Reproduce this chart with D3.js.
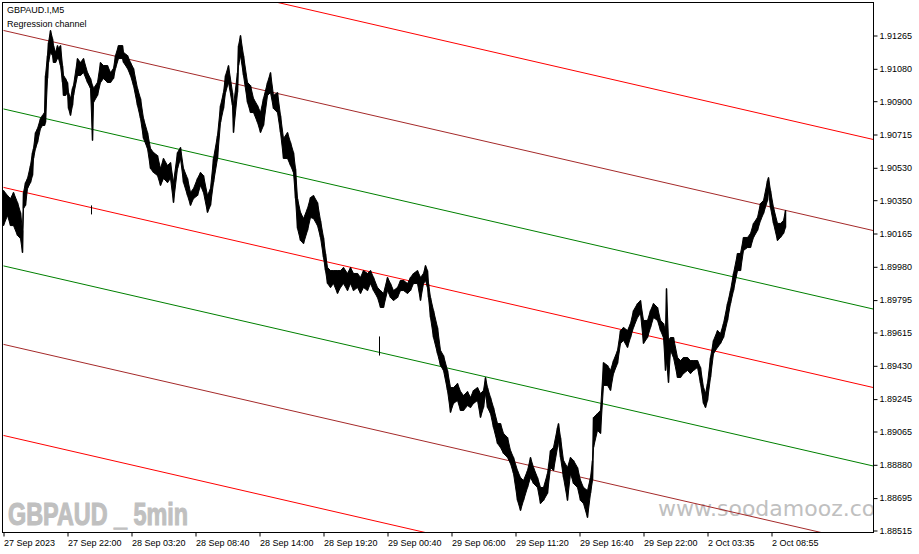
<!DOCTYPE html>
<html><head><meta charset="utf-8">
<script src="https://cdn.jsdelivr.net/npm/d3@7/dist/d3.min.js"></script>
<style>body{margin:0;background:#fff}svg{display:block}</style>
</head><body>
<svg id="c" width="919" height="554"></svg>
<script>
// ---------- data ----------
const symbolTitle = "GBPAUD.I,M5";
const indicatorTitle = "Regression channel";
const watermarkLeft = "GBPAUD _ 5min";
const watermarkRight = "www.soodamooz.co";

const timeTickBars = [0, 64, 128, 192, 256, 320, 384, 448, 512, 576, 640, 704, 768];
const timeLabels = ["27 Sep 2023", "27 Sep 22:00", "28 Sep 03:20", "28 Sep 08:40", "28 Sep 14:00",
  "28 Sep 19:20", "29 Sep 00:40", "29 Sep 06:00", "29 Sep 11:20", "29 Sep 16:40",
  "29 Sep 22:00", "2 Oct 03:35", "2 Oct 08:55"];

const priceTicks = [1.91265, 1.91080, 1.90900, 1.90715, 1.90530, 1.90350, 1.90165, 1.89980,
  1.89795, 1.89615, 1.89430, 1.89245, 1.89065, 1.88880, 1.88695, 1.88515];

// sampled M5 bars: bar offset from first bar, high, low
const barIndex = [
  0,4,7,10,14,17,19,20,22,24, 27,29,30,32,34,37,39,41,42,44,
  45,47,49,50,52,54,55,57,59,60, 62,64,65,67,69,70,74,77,80,84,
  87,89,90,94,97,100,104,107,110,112, 115,119,120,124,127,130,134,137,140,144,
  147,150,154,157,
  160,164,167,170,174,177,180,184,187,190, 194,197,200,204,207,210,214,217,220,222,
  225,229,230,234,235,237,240,244,247,250, 254,257,260,264,267,270,274,277,280,284,
  287,290,292,294,297,300,304,307,310,314,
  317,320,322,324,327,330,334,337,340,344, 347,350,354,357,360,364,367,370,374,377,
  380,384,387,390,394,397,400,404,407,410, 414,417,420,422,424,425,427,430,434,437,
  440,444,447,450,454,457,460,464,
  467,470,474,477,480,482,484,487,490,494, 497,500,504,507,510,514,517,520,524,527,
  530,534,537,540,544,547,550,554,555,557, 560,564,567,570,574,577,580,584,587,589,
  590,594,597,600,604,
  607,610,614,617,620,624,627,630,634,637, 640,644,647,650,654,657,660,662,663,665,
  667,670,674,677,680,684,687,690,694,697, 700,702,704,707,710,714,717,720,724,727,
  730,734,737,740,744,747,750,754,757,760, 764,765,767,770,774,777,780,782
];
const barHigh = [
  1.90404,1.90376,1.90359,1.90393,1.90337,1.90282,1.90182,1.90393,1.90448,1.90471,
  1.90543,1.90615,1.90637,1.90726,1.90748,1.90804,1.90821,1.90837,1.91043,1.91154,
  1.91226,1.91293,1.91248,1.91209,1.91171,1.91209,1.91193,1.91209,1.91098,1.91043,
  1.91026,1.91004,1.90948,1.90915,1.90971,1.90987,1.91137,1.91115,1.91137,1.91059,
  1.91026,1.90987,1.90971,1.91004,1.91115,1.91098,1.91098,1.91059,1.91082,1.91154,
  1.91209,1.91209,1.91171,1.91154,1.91115,1.91082,1.90971,1.90915,1.90804,1.90726,
  1.90637,1.90615,1.90598,1.90526,
  1.90582,1.90543,1.90559,1.90448,1.90615,1.90643,1.90526,1.90471,1.90393,1.90415,
  1.90471,1.90504,1.90487,1.90376,1.90415,1.90582,1.90709,1.90876,1.90948,1.91043,
  1.91098,1.90948,1.90876,1.91059,1.91209,1.91265,1.91154,1.91004,1.90987,1.90915,
  1.90876,1.90837,1.90915,1.91004,1.91059,1.90932,1.90948,1.90821,1.90693,1.90726,
  1.90671,1.90615,1.90526,1.90359,1.90282,1.90248,1.90304,1.90365,1.90376,1.90337,
  1.90237,1.90143,1.90054,1.89976,1.89959,1.89959,1.89959,1.89959,1.89976,1.89943,
  1.89976,1.89943,1.89943,1.89921,1.89959,1.89943,1.89959,1.89921,1.89865,1.89848,
  1.89832,1.89921,1.89887,1.89848,1.89865,1.89904,1.89904,1.89887,1.89921,1.89943,
  1.89959,1.89921,1.89943,1.89987,1.89959,1.89887,1.89809,1.89737,1.89643,1.89515,
  1.89487,1.89404,1.89309,1.89309,1.89332,1.89287,1.89265,1.89287,
  1.89254,1.89293,1.89309,1.89276,1.89293,1.89365,1.89309,1.89254,1.89198,1.89109,
  1.89109,1.89054,1.89032,1.88959,1.88921,1.88848,1.88809,1.88793,1.88848,1.88921,
  1.88865,1.88809,1.88754,1.88754,1.88832,1.88959,1.88976,1.89087,1.89109,1.89032,
  1.88904,1.88865,1.88921,1.88904,1.88865,1.88793,1.88754,1.88737,1.88809,1.88904,
  1.89143,1.89165,1.89182,1.89448,1.89432,
  1.89404,1.89459,1.89515,1.89626,1.89643,1.89626,1.89665,1.89737,1.89776,1.89793,
  1.89682,1.89682,1.89737,1.89776,1.89754,1.89682,1.89665,1.89626,1.89859,1.89571,
  1.89587,1.89587,1.89476,1.89459,1.89476,1.89476,1.89459,1.89459,1.89459,1.89421,
  1.89309,1.89276,1.89332,1.89476,1.89571,1.89626,1.89609,1.89665,1.89776,1.89848,
  1.89943,1.90054,1.90054,1.90143,1.90143,1.90165,1.90221,1.90254,1.90332,1.90348,
  1.90459,1.90476,1.90404,1.90309,1.90221,1.90221,1.90237,1.90293
];
const barLow = [
  1.90209,1.90265,1.90209,1.90209,1.90154,1.90137,1.90059,1.90304,1.90321,1.90415,
  1.90448,1.90487,1.90582,1.90637,1.90671,1.90748,1.90765,1.90765,1.90782,1.91026,
  1.91115,1.91171,1.91154,1.91115,1.91115,1.91137,1.91137,1.91098,1.91004,1.90932,
  1.90932,1.90948,1.90859,1.90821,1.90876,1.90932,1.91043,1.91043,1.91059,1.91004,
  1.90971,1.90682,1.90893,1.90932,1.91004,1.91026,1.91004,1.91004,1.91026,1.91082,
  1.91137,1.91137,1.91115,1.91082,1.91043,1.90987,1.90876,1.90804,1.90693,1.90637,
  1.90526,1.90504,1.90487,1.90432,
  1.90471,1.90448,1.90471,1.90337,1.90526,1.90582,1.90448,1.90376,1.90321,1.90359,
  1.90376,1.90432,1.90393,1.90282,1.90321,1.90448,1.90582,1.90782,1.90859,1.90948,
  1.91004,1.90876,1.90726,1.90948,1.91098,1.91154,1.91043,1.90893,1.90837,1.90837,
  1.90782,1.90726,1.90765,1.90932,1.90948,1.90859,1.90837,1.90726,1.90582,1.90582,
  1.90543,1.90504,1.90359,1.90193,1.90126,1.90109,1.90182,1.90254,1.90248,1.90209,
  1.90143,1.90032,1.89959,1.89887,1.89865,1.89887,1.89832,1.89865,1.89887,1.89848,
  1.89887,1.89848,1.89865,1.89832,1.89865,1.89848,1.89887,1.89848,1.89809,1.89754,
  1.89754,1.89848,1.89809,1.89793,1.89809,1.89848,1.89848,1.89832,1.89848,1.89887,
  1.89887,1.89793,1.89887,1.89904,1.89865,1.89809,1.89698,1.89587,1.89498,1.89432,
  1.89404,1.89293,1.89171,1.89221,1.89237,1.89182,1.89182,1.89209,
  1.89198,1.89221,1.89237,1.89143,1.89198,1.89276,1.89198,1.89165,1.89087,1.88998,
  1.88976,1.88943,1.88921,1.88887,1.88832,1.88682,1.88626,1.88682,1.88754,1.88809,
  1.88776,1.88754,1.88665,1.88682,1.88721,1.88865,1.88848,1.88976,1.89015,1.88921,
  1.88809,1.88682,1.88832,1.88776,1.88754,1.88682,1.88665,1.88587,1.88721,1.88793,
  1.88976,1.89071,1.89054,1.89321,1.89321,
  1.89293,1.89387,1.89443,1.89554,1.89571,1.89532,1.89587,1.89643,1.89698,1.89721,
  1.89554,1.89587,1.89643,1.89698,1.89682,1.89626,1.89587,1.89404,1.89459,1.89337,
  1.89515,1.89476,1.89365,1.89365,1.89387,1.89404,1.89387,1.89404,1.89421,1.89332,
  1.89221,1.89198,1.89237,1.89365,1.89498,1.89532,1.89554,1.89587,1.89682,1.89776,
  1.89848,1.89959,1.89959,1.90071,1.90087,1.90087,1.90143,1.90182,1.90237,1.90276,
  1.90348,1.90404,1.90309,1.90221,1.90126,1.90143,1.90165,1.90198
];

// isolated single bars
const strayIndex = [88, 376];
const strayHigh = [1.90321, 1.89593];
const strayLow = [1.90271, 1.89487];

// regression channel: centre line from first to last visible bar, parallel offsets
const channelBars = [0, 870];
const channelCentre = [1.90421, 1.89309];
const channelOffsets = [0.01378, 0.00872, 0.00436, 0, -0.00436, -0.00872, -0.01378];

// ---------- drawing ----------
const L = 3, R = 873, T = 3, B = 533;
const svg = d3.select("#c");

const x = d3.scaleLinear().domain([0, 870]).range([L + 0.5, R + 0.5]);
const y = d3.scaleLinear().domain([1.88515, 1.91265]).range([530.5, 35.5]);

svg.append("defs").append("clipPath").attr("id", "plot")
  .append("rect").attr("x", L).attr("y", T).attr("width", R - L).attr("height", B - T);

const plot = svg.append("g").attr("clip-path", "url(#plot)");

// watermarks
svg.append("text").attr("x", 8).attr("y", 525)
  .attr("font-family", "Liberation Sans, Arial, sans-serif").attr("font-weight", "bold")
  .attr("font-size", 31).attr("fill", "#c0c0c0")
  .attr("stroke", "#c0c0c0").attr("stroke-width", 1.1)
  .attr("textLength", 180).attr("lengthAdjust", "spacingAndGlyphs")
  .text(watermarkLeft);
plot.append("text").attr("x", 658).attr("y", 516)
  .attr("font-family", "DejaVu Sans, Verdana, sans-serif")
  .attr("font-size", 22).attr("fill", "#c0c0c0")
  .text(watermarkRight);

// channel lines
const channelColor = ["#ff0000", "#a52a2a", "#008000", "#ff0000", "#008000", "#a52a2a", "#ff0000"];
channelOffsets.forEach((off, k) => {
  plot.append("line")
    .attr("x1", x(channelBars[0])).attr("y1", y(channelCentre[0] + off))
    .attr("x2", x(channelBars[1])).attr("y2", y(channelCentre[1] + off))
    .attr("stroke", channelColor[k]).attr("stroke-width", 1);
});

// price bars
const idx = d3.range(barIndex.length);
const area = d3.area()
  .x(i => x(barIndex[i]))
  .y0(i => y(barLow[i]))
  .y1(i => y(barHigh[i]));
plot.append("path").attr("d", area(idx))
  .attr("fill", "#000").attr("stroke", "#000").attr("stroke-width", 1);
plot.selectAll("line.bar").data(idx).join("line").attr("class", "bar")
  .attr("x1", i => x(barIndex[i])).attr("x2", i => x(barIndex[i]))
  .attr("y1", i => y(barHigh[i])).attr("y2", i => y(barLow[i]))
  .attr("stroke", "#000").attr("stroke-width", 1.5);
plot.selectAll("line.stray").data(d3.range(strayIndex.length)).join("line").attr("class", "stray")
  .attr("x1", i => x(strayIndex[i])).attr("x2", i => x(strayIndex[i]))
  .attr("y1", i => y(strayHigh[i])).attr("y2", i => y(strayLow[i]))
  .attr("stroke", "#000").attr("stroke-width", 1);

// frame
svg.append("rect").attr("x", L - 0.5).attr("y", T - 0.5)
  .attr("width", R - L + 1).attr("height", B - T)
  .attr("fill", "none").attr("stroke", "#000").attr("stroke-width", 1);

// axes
const fontFam = "Liberation Sans, Arial, sans-serif";
const yAxis = svg.append("g").attr("transform", `translate(${R + 0.5},0)`)
  .call(d3.axisRight(y).tickValues(priceTicks).tickSize(4).tickPadding(2)
    .tickFormat(d3.format(".5f")));
yAxis.select(".domain").remove();
yAxis.selectAll("text").attr("font-family", fontFam).attr("font-size", 9).attr("fill", "#000");

const xAxis = svg.append("g").attr("transform", `translate(0,${B - 0.5})`)
  .call(d3.axisBottom(x).tickValues(timeTickBars).tickSize(4).tickPadding(3)
    .tickFormat((d, i) => timeLabels[i]));
xAxis.select(".domain").remove();
xAxis.selectAll("text").attr("font-family", fontFam).attr("font-size", 9)
  .attr("fill", "#000").attr("text-anchor", "start");

// titles
svg.append("text").attr("x", 7).attr("y", 13).attr("font-family", fontFam)
  .attr("font-size", 9).attr("fill", "#000").text(symbolTitle);
svg.append("text").attr("x", 7).attr("y", 27).attr("font-family", fontFam)
  .attr("font-size", 9).attr("fill", "#000").text(indicatorTitle);
</script>
</body></html>
